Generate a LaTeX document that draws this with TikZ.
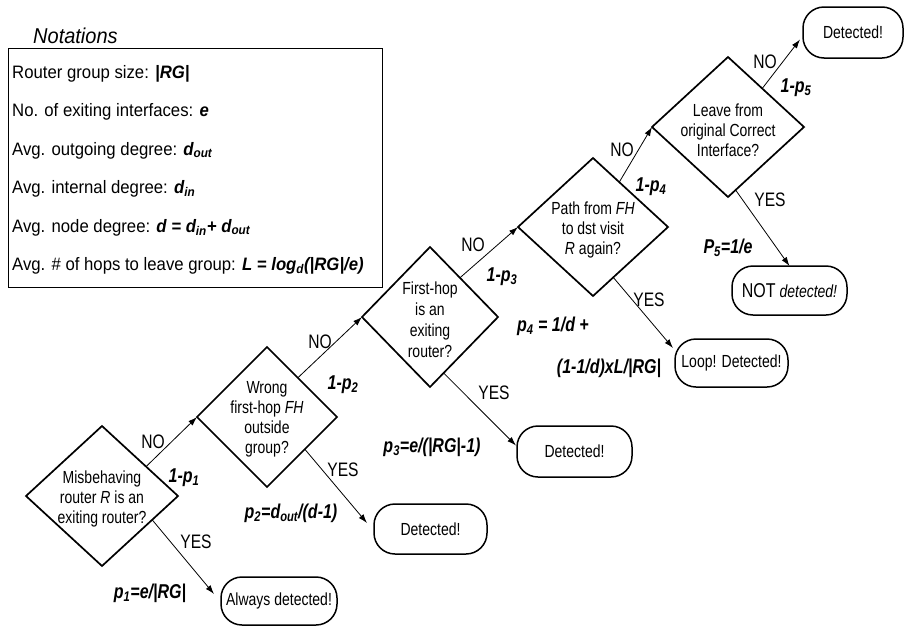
\documentclass[tikz,border=0pt]{standalone}
\usepackage{fontspec}
\setmainfont{Liberation Sans}
\newfontfamily\narrowfont[FakeStretch=0.8]{Liberation Sans}
\newfontfamily\notefont[FakeStretch=0.93]{Liberation Sans}
\usetikzlibrary{shapes.geometric,arrows.meta,calc}
\newcommand\bfit[1]{\textbf{\textit{#1}}}
\newcommand\dfont{\narrowfont\fontsize{17.5}{20}\selectfont}
\newcommand\ynfont{\narrowfont\fontsize{19.5}{21}\selectfont}
\newcommand\lfont{\narrowfont\fontsize{20}{22}\selectfont\bfseries\itshape}
\newcommand\nfont{\notefont\fontsize{18}{20}\selectfont}
\begin{document}
\begin{tikzpicture}[x=1pt,y=-1pt,
  dia/.style={diamond, draw, line width=1.7pt, inner sep=0pt, outer sep=0pt},
  dtext/.style={align=center, font=\dfont, inner sep=0pt},
  term/.style={draw, line width=1.5pt, rounded corners=21pt, inner sep=0pt, outer sep=0pt, font=\dfont},
  arr/.style={-{Latex[length=9pt,width=6pt]}, line width=0.8pt},
  yn/.style={font=\ynfont, inner sep=0pt},
  prob/.style={font=\lfont, inner sep=0pt},
  note/.style={anchor=base west, font=\nfont, inner sep=0pt}]
\useasboundingbox (0,0) rectangle (904,627);

% Notations
\node[anchor=base west, font=\notefont\itshape\fontsize{21.5}{24}\selectfont, inner sep=0pt] (ntitle) at (33,43) {Notations};
\node[draw, line width=1.2pt, minimum width=374, minimum height=239, anchor=north west, inner sep=0pt] (nbox) at (8,48) {};
\node[note] (n1) at (12,78) {Router group size: \bfit{|RG|}};
\node[note] (n2) at (12,116.5) {No. of exiting interfaces: \bfit{e}};
\node[note] (n3) at (12,155) {Avg. outgoing degree: \bfit{d\textsubscript{out}}};
\node[note] (n4) at (12,193.5) {Avg. internal degree: \bfit{d\textsubscript{in}}};
\node[note] (n5) at (12,232) {Avg. node degree: \bfit{d = d\textsubscript{in}+ d\textsubscript{out}}};
\node[note] (n6) at (12,270.5) {Avg. \# of hops to leave group: \bfit{L = log\textsubscript{d}(|RG|/e)}};

% Diamonds
\node[dia, minimum width=152, minimum height=140] (d1) at (102,496) {};
\node[dtext] (d1t) at (102,499) {Misbehaving\\router \textit{R} is an\\exiting router?};
\node[dia, minimum width=140, minimum height=140] (d2) at (267,417) {};
\node[dtext] (d2t) at (267,419) {Wrong\\first-hop \textit{FH}\\outside\\group?};
\node[dia, minimum width=136, minimum height=140] (d3) at (430,317) {};
\node[dtext, font=\narrowfont\fontsize{17.5}{21}\selectfont] (d3t) at (430,320) {First-hop\\is an\\exiting\\router?};
\node[dia, minimum width=150, minimum height=138] (d4) at (593,227) {};
\node[dtext] (d4t) at (593,230) {Path from \textit{FH}\\to dst visit\\\textit{R} again?};
\node[dia, minimum width=152, minimum height=140] (d5) at (728,127) {};
\node[dtext] (d5t) at (728,130) {Leave from\\original Correct\\Interface?};

% Terminals
\node[term, minimum width=116, minimum height=48] (t1) at (279,601) {Always detected!};
\node[term, minimum width=113, minimum height=50] (t2) at (430.5,529) {Detected!};
\node[term, minimum width=115, minimum height=51] (t3) at (574.5,451.5) {Detected!};
\node[term, minimum width=113, minimum height=48] (t4) at (731.5,363) {Loop! Detected!};
\node[term, minimum width=115, minimum height=49] (t5) at (789.5,290.5) {{\fontsize{20}{22}\selectfont NOT} \textit{detected!}};
\node[term, minimum width=100, minimum height=51] (t6) at (853,32.5) {Detected!};

% Arrows NO
\draw[arr] ($(d1.north)!0.58!(d1.east)$) -- (d2.west);
\draw[arr] ($(d2.north)!0.44!(d2.east)$) -- (d3.west);
\draw[arr] ($(d3.north)!0.44!(d3.east)$) -- (d4.west);
\draw[arr] ($(d4.north)!0.35!(d4.east)$) -- (d5.west);
\draw[arr] ($(d5.north)!0.45!(d5.east)$) -- ($(t6.west)+(-3,7)$);
% Arrows YES
\draw[arr] ($(d1.east)!0.34!(d1.south)$) -- ($(t1.west)+(-7,-7)$);
\draw[arr] ($(d2.east)!0.46!(d2.south)$) -- ($(t2.west)+(-7,-6)$);
\draw[arr] ($(d3.east)!0.8!(d3.south)$) -- ($(t3.west)+(-1,-6)$);
\draw[arr] ($(d4.east)!0.73!(d4.south)$) -- ($(t4.west)+(-2,-15)$);
\draw[arr] ($(d5.east)!0.9!(d5.south)$) -- (t5.north);

% NO / YES labels
\node[yn] (no1) at (153,442) {NO};
\node[yn] (no2) at (320,342) {NO};
\node[yn] (no3) at (473,245) {NO};
\node[yn] (no4) at (622,150) {NO};
\node[yn] (no5) at (765,62) {NO};
\node[yn] (yes1) at (196,542) {YES};
\node[yn] (yes2) at (343,470) {YES};
\node[yn] (yes3) at (494,393) {YES};
\node[yn] (yes4) at (649,300) {YES};
\node[yn] (yes5) at (770,200) {YES};

% probabilities
\node[prob] (q1) at (184,478) {1-p\textsubscript{1}};
\node[prob] (q2) at (343,385) {1-p\textsubscript{2}};
\node[prob] (q3) at (502,277) {1-p\textsubscript{3}};
\node[prob] (q4) at (651,187) {1-p\textsubscript{4}};
\node[prob] (q5) at (796,88) {1-p\textsubscript{5}};
\node[prob] (p1) at (150,593) {p\textsubscript{1}=e/|RG|};
\node[prob] (p2) at (291,513) {p\textsubscript{2}=d\textsubscript{out}/(d-1)};
\node[prob] (p3) at (432,447) {p\textsubscript{3}=e/(|RG|-1)};
\node[prob] (p4a) at (553,326) {p\textsubscript{4} = 1/d +};
\node[prob] (p4b) at (609,368) {(1-1/d)xL/|RG|};
\node[prob] (p5) at (728,248) {P\textsubscript{5}=1/e};
\end{tikzpicture}
\end{document}
